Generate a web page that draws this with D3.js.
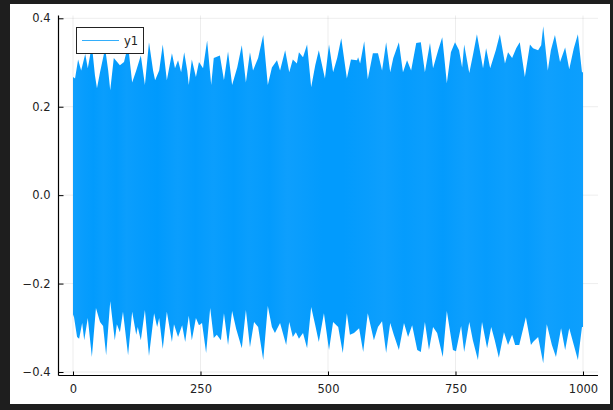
<!DOCTYPE html>
<html lang="en">
<head>
  <meta charset="UTF-8">
  <title>y1</title>

  <!-- Load in the d3 library -->
  <script src="https://d3js.org/d3.v7.min.js"></script>
  <style type="text/css">
    html, body { margin: 0; padding: 0; background: #1e1e1e; overflow: hidden; }
    svg { display: block; }
    text { font-family: "DejaVu Sans", sans-serif; font-size: 11.5px; fill: #222; }
    .grid { stroke: #000; stroke-opacity: 0.07; stroke-width: 1; }
    .tick line { stroke: #000; }
    .domain { stroke: #000; stroke-width: 1.2; fill: none; }
  </style>
</head>
<body>
<script>

  // tick values and labels
  var xTicks = [0, 250, 500, 750, 1000];
  var xTickLabels = ["0", "250", "500", "750", "1000"];
  var yTicks = [-0.4, -0.2, 0, 0.2, 0.4];
  var yTickLabels = ["\u22120.4", "\u22120.2", "0.0", "0.2", "0.4"];
  var seriesName = "y1";

  var upperX = [0,4,10,16,24,29,37,43,47,53,63,69,73,80,92,100,108,116,124,133,141,149,157,161,169,176,184,194,200,206,212,218,224,227,233,241,247,255,263,271,276,288,296,304,312,322,331,339,347,353,363,373,382,390,400,406,416,424,431,439,443,451,459,467,475,482,494,502,510,518,526,537,545,557,559,563,571,578,588,598,606,614,622,628,639,647,655,663,673,682,690,700,706,716,724,728,733,741,749,757,763,767,777,784,792,804,810,818,829,837,847,853,861,869,876,886,896,902,912,918,922,931,937,945,955,965,973,982,990,998,1000];
  var upperY = [.267,.264,.307,.282,.319,.287,.339,.271,.242,.278,.332,.282,.237,.310,.294,.301,.339,.255,.282,.316,.249,.346,.282,.260,.282,.341,.260,.321,.287,.305,.278,.323,.282,.249,.307,.267,.301,.287,.350,.249,.310,.316,.260,.325,.249,.289,.339,.255,.323,.282,.310,.362,.249,.289,.305,.282,.328,.278,.307,.298,.323,.312,.341,.244,.294,.328,.264,.341,.278,.310,.355,.264,.307,.305,.312,.298,.348,.262,.321,.321,.282,.346,.278,.310,.346,.278,.305,.282,.344,.346,.278,.344,.287,.328,.357,.312,.253,.323,.346,.328,.289,.341,.276,.316,.364,.287,.332,.287,.328,.364,.298,.323,.310,.332,.346,.267,.341,.332,.328,.339,.382,.282,.328,.362,.301,.334,.285,.332,.364,.278,.278];
  var lowerX = [0,2,8,12,18,22,29,37,45,53,59,65,73,82,86,92,98,108,116,124,127,133,141,149,159,165,169,176,184,194,198,206,214,220,227,233,241,247,253,261,269,276,282,290,296,304,312,320,331,339,347,355,363,373,382,390,396,406,418,424,431,437,443,451,459,467,475,482,492,502,510,520,529,537,543,551,561,569,578,590,598,606,614,622,629,639,649,657,665,675,682,690,698,706,714,725,733,745,751,761,767,777,784,794,802,812,820,827,835,845,853,861,867,875,888,898,902,912,922,929,939,947,957,965,973,982,990,998,1000];
  var lowerY = [-.270,-.276,-.321,-.325,-.289,-.328,-.278,-.366,-.255,-.287,-.296,-.362,-.240,-.328,-.292,-.310,-.264,-.362,-.264,-.316,-.298,-.328,-.260,-.364,-.267,-.298,-.278,-.348,-.264,-.332,-.292,-.321,-.294,-.332,-.273,-.328,-.278,-.294,-.289,-.357,-.255,-.323,-.316,-.328,-.267,-.339,-.262,-.303,-.346,-.260,-.344,-.287,-.298,-.373,-.251,-.298,-.312,-.289,-.339,-.287,-.321,-.310,-.325,-.312,-.346,-.253,-.294,-.332,-.267,-.350,-.287,-.298,-.357,-.267,-.316,-.312,-.301,-.355,-.267,-.328,-.298,-.285,-.357,-.289,-.316,-.350,-.289,-.321,-.294,-.350,-.355,-.287,-.350,-.298,-.312,-.366,-.262,-.350,-.353,-.296,-.355,-.287,-.328,-.373,-.287,-.346,-.298,-.328,-.368,-.310,-.339,-.316,-.339,-.339,-.276,-.339,-.332,-.321,-.380,-.292,-.339,-.366,-.301,-.350,-.301,-.339,-.373,-.298,-.298];

  // where the overlapping line looks a bit paler or deeper, 0 = deep, 1 = pale
  var bandX = [0,20,40,60,85,105,130,165,205,240,275,315,345,385,420,455,490,530,575,610,650,690,725,770,810,850,890,930,970,1000];
  var bandPale = [1,.5,.1,.6,.1,.7,.4,.0,.7,.2,.7,.1,.6,.2,.9,.5,.1,.1,.5,.9,.3,.7,.2,.9,.4,.8,.4,1,.6,.8];

  var width = 613, height = 410;
  var panel = {left: 10, top: 4, right: 610, bottom: 404};
  var frame = {left: 58.5, top: 15.5, right: 598, bottom: 375.5};

  var xScale = d3.scaleLinear().domain([0, 1000]).range([73, 583]);
  var yScale = d3.scaleLinear().domain([-0.4, 0.4]).range([372, 18.3]);

  var svg = d3.select("body").append("svg")
    .attr("width", width)
    .attr("height", height);

  // white page on the dark window
  svg.append("rect")
    .attr("x", panel.left).attr("y", panel.top)
    .attr("width", panel.right - panel.left)
    .attr("height", panel.bottom - panel.top)
    .attr("fill", "#fff");

  // grid
  svg.selectAll(".gridx").data(xTicks).enter().append("line")
    .attr("class", "grid")
    .attr("x1", function(d) { return xScale(d); })
    .attr("x2", function(d) { return xScale(d); })
    .attr("y1", frame.top).attr("y2", frame.bottom);

  svg.selectAll(".gridy").data(yTicks).enter().append("line")
    .attr("class", "grid")
    .attr("y1", function(d) { return yScale(d); })
    .attr("y2", function(d) { return yScale(d); })
    .attr("x1", frame.left).attr("x2", frame.right);

  // colour bands across the signal
  var paleColor = d3.scaleLinear().domain([0, 1]).range(["#009afd", "#10a0fd"]);
  var gradient = svg.append("linearGradient")
    .attr("id", "bands")
    .attr("gradientUnits", "userSpaceOnUse")
    .attr("x1", xScale(0)).attr("y1", 0)
    .attr("x2", xScale(1000)).attr("y2", 0);

  gradient.selectAll("stop").data(bandX).enter().append("stop")
    .attr("offset", function(d) { return (d / 1000 * 100) + "%"; })
    .attr("stop-color", function(d, i) { return paleColor(bandPale[i]); });

  // top half and bottom half of the signal, they overlap around zero so no seam shows
  var upperPoints = upperX.map(function(d, i) { return [d, upperY[i]]; });
  var lowerPoints = lowerX.map(function(d, i) { return [d, lowerY[i]]; });

  function halfArea(base) {
    return d3.area()
      .x(function(d) { return xScale(d[0]); })
      .y0(yScale(base))
      .y1(function(d) { return yScale(d[1]); });
  }

  svg.append("path")
    .datum(upperPoints)
    .attr("d", halfArea(-0.05))
    .attr("fill", "url(#bands)");

  svg.append("path")
    .datum(lowerPoints)
    .attr("d", halfArea(0.05))
    .attr("fill", "url(#bands)");

  // axes
  var yAxis = d3.axisLeft(yScale)
    .tickValues(yTicks)
    .tickSize(-5)
    .tickPadding(8)
    .tickFormat(function(d, i) { return yTickLabels[i]; });

  var xAxis = d3.axisBottom(xScale)
    .tickValues(xTicks)
    .tickSize(-4)
    .tickPadding(9)
    .tickFormat(function(d, i) { return xTickLabels[i]; });

  var yG = svg.append("g")
    .attr("transform", "translate(" + frame.left + ",0)")
    .call(yAxis);
  yG.select(".domain").attr("d", "M0," + frame.top + "V" + frame.bottom);
  yG.selectAll("text").style("font-family", "DejaVu Sans").style("font-size", "11.5px");

  var xG = svg.append("g")
    .attr("transform", "translate(0," + frame.bottom + ")")
    .call(xAxis);
  xG.select(".domain").attr("d", "M" + frame.left + ",0H" + frame.right);
  xG.selectAll("text").style("font-family", "DejaVu Sans").style("font-size", "11.5px");

  // legend
  var legend = svg.append("g");
  legend.append("rect")
    .attr("x", 76.5).attr("y", 27.5)
    .attr("width", 67).attr("height", 26)
    .attr("fill", "#fff")
    .attr("stroke", "#222")
    .attr("stroke-width", 1);
  legend.append("line")
    .attr("x1", 82).attr("x2", 119)
    .attr("y1", 40.5).attr("y2", 40.5)
    .attr("stroke", "#009afa")
    .attr("stroke-opacity", 0.8)
    .attr("stroke-width", 1.2);
  legend.append("text")
    .attr("x", 124).attr("y", 44.5)
    .text(seriesName);

</script>
</body>
</html>
